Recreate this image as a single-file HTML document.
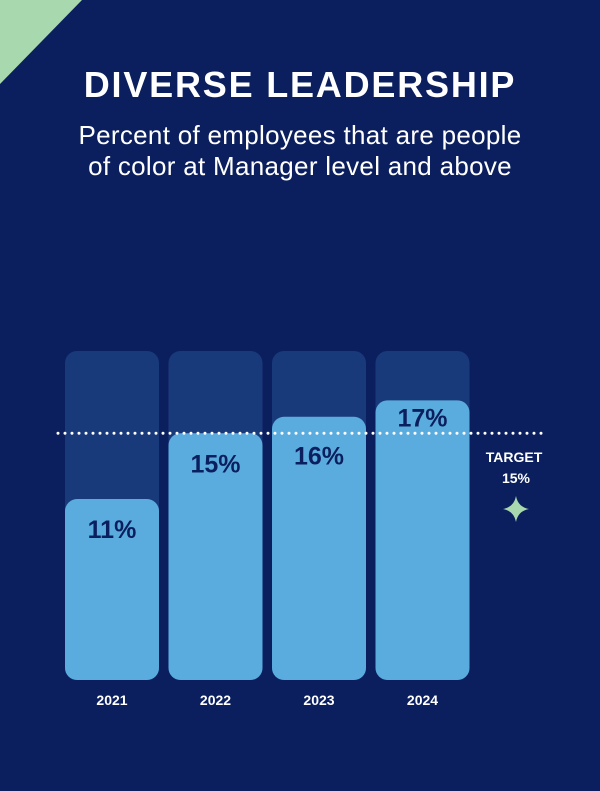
<!DOCTYPE html>
<html><head><meta charset="utf-8"><style>
html,body{margin:0;padding:0;background:#0b1f5e;}
svg{display:block;font-family:"Liberation Sans",sans-serif;}
</style></head><body>
<svg id="chart" width="600" height="791" viewBox="0 0 600 791">
<rect x="0" y="0" width="600" height="791" fill="#0b1f5e"/>
<polygon points="0,0 82,0 0,84" fill="#a8d8ad"/>
<text x="300" y="97" text-anchor="middle" fill="#fff" font-size="36" font-weight="900" style="letter-spacing:1.8px">DIVERSE LEADERSHIP</text>
<text x="300" y="144" text-anchor="middle" fill="#fff" font-size="26" style="letter-spacing:0.3px">Percent of employees that are people</text>
<text x="300" y="175" text-anchor="middle" fill="#fff" font-size="26" style="letter-spacing:0.3px">of color at Manager level and above</text>
<g id="bars"></g>
<g id="target">
<text x="514" y="462" text-anchor="middle" fill="#fff" font-size="14" font-weight="700">TARGET</text>
<text id="target-value" x="516" y="483" text-anchor="middle" fill="#fff" font-size="14" font-weight="700"></text>
<path d="M516,496 Q518,507 529,509 Q518,511 516,522 Q514,511 503,509 Q514,507 516,496Z" fill="#a8d8ad"/>
</g>
</svg>
<script>
const years = ["2021","2022","2023","2024"];
const values = [11,15,16,17];
const maxValue = 20;
const targetValue = 15;

const ns="http://www.w3.org/2000/svg";
const base=680, pxPerUnit=16.45, x0=65, step=103.5, bw=94;
function y(v){return base - v*pxPerUnit;}
function xb(i){return x0 + i*step;}
const g=document.getElementById('bars');
function mk(tag,attrs){const e=document.createElementNS(ns,tag);for(const k in attrs)e.setAttribute(k,attrs[k]);return e;}
const lineY=y(targetValue);
years.forEach((yr,i)=>{
  const top=y(values[i]);
  const bg=mk('rect',{x:xb(i),y:y(maxValue),width:bw,height:base-y(maxValue),rx:12,fill:'#183a7a'});
  
  
  g.appendChild(bg);
  const b=mk('rect',{x:xb(i),y:top,width:bw,height:base-top,rx:12,fill:'#5aacde'});
  
  
  g.appendChild(b);
  let by=top+39;
  if(by-22<lineY+3 && by>lineY-3){
    if(lineY-top>=29) by=lineY-7; else by=lineY+31;
  }
  const t=mk('text',{x:xb(i)+bw/2,y:by,'text-anchor':'middle',fill:'#0b1f5e','font-size':'25','font-weight':'900'});
  t.textContent=values[i]+'%';
  
  
  g.appendChild(t);
  const l=mk('text',{x:xb(i)+bw/2,y:705,'text-anchor':'middle',fill:'#fff','font-size':'14','font-weight':'700'});
  l.textContent=yr;
  
  
  g.appendChild(l);
});
const line=mk('line',{x1:58,x2:545,y1:lineY,y2:lineY,stroke:'#fff','stroke-width':3,'stroke-dasharray':'0 7','stroke-linecap':'round'});


g.appendChild(line);
document.getElementById('target-value').textContent=targetValue+'%';
</script>
</body></html>
